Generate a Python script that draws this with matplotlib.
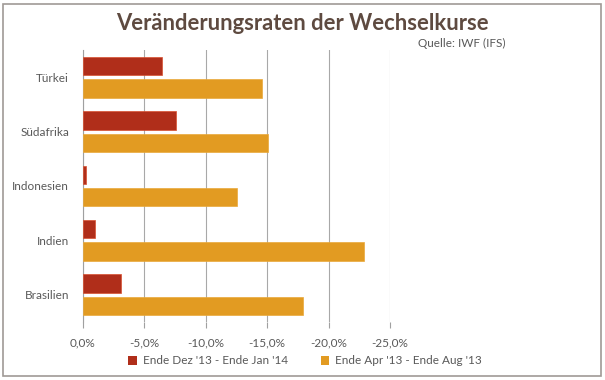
import numpy as np
import matplotlib
matplotlib.use("Agg")
import matplotlib.pyplot as plt
from matplotlib.patches import Rectangle, Patch
from matplotlib.ticker import FixedLocator

# Data
countries = ["Türkei", "Südafrika", "Indonesien", "Indien", "Brasilien"]
dez_jan = [-6.4, -7.6, -0.25, -1.0, -3.1]
apr_aug = [-14.6, -15.1, -12.5, -22.9, -17.9]
series_names = ["Ende Dez '13 - Ende Jan '14", "Ende Apr '13 - Ende Aug '13"]
tick_values = [0, -5, -10, -15, -20, -25]

RED = "#b02e1a"
ORANGE = "#e29b22"
TEXT = "#595959"

plt.rcParams["font.family"] = ["Lato", "DejaVu Sans"]

fig = plt.figure(figsize=(6.05, 3.8), dpi=100)
ax = fig.add_axes([83 / 605, 1 - 322 / 380, (390 - 83) / 605, (322 - 50) / 380])

y = np.arange(len(countries))[::-1].astype(float)
h = 0.34
ax.barh(y + 0.205, dez_jan, height=h, color=RED, edgecolor="#d9502f", linewidth=0.5, zorder=3)
ax.barh(y - 0.205, apr_aug, height=h, color=ORANGE, edgecolor="#eaa93a", linewidth=0.5, zorder=3)

ax.set_xlim(0, -25)
ax.set_ylim(-0.5, len(countries) - 0.5)
ax.xaxis.set_major_locator(FixedLocator(tick_values))
ax.set_xticklabels([f"{v:.1f}%".replace(".", ",") for v in tick_values], color=TEXT, fontsize=8.5)
ax.set_yticks(y)
ax.set_yticklabels(countries, color=TEXT, fontsize=8.5)
ax.tick_params(axis="y", length=0, pad=10)
ax.tick_params(axis="x", length=4, color="#a0a0a0", pad=7)

ax.grid(axis="x", color="#a8a8a8", linewidth=0.8, zorder=0)
for s in ["top", "right"]:
    ax.spines[s].set_visible(False)
ax.spines["left"].set_color("#a0a0a0")
ax.spines["bottom"].set_visible(False)

# Title and source
fig.text(302 / 605, 1 - 24 / 380, "Veränderungsraten der Wechselkurse", ha="center", va="center",
         fontsize=15.8, fontweight="bold", color="#5e4a40")
fig.text(506 / 605, 1 - 43 / 380, "Quelle: IWF (IFS)", ha="right", va="center", fontsize=8.5, color=TEXT)

# Legend
handles = [Patch(facecolor=RED), Patch(facecolor=ORANGE)]
fig.legend(handles, series_names, loc="center", bbox_to_anchor=(305 / 605, 1 - 361 / 380), ncol=2,
           frameon=False, fontsize=8.5, labelcolor=TEXT, handlelength=0.7, handleheight=0.7,
           handletextpad=0.5, columnspacing=2.8)

# Outer border
fig.patches.append(Rectangle((3 / 605, 4 / 380), 598 / 605, 372 / 380, transform=fig.transFigure,
                             fill=False, edgecolor="#a09a96", linewidth=1.2))

fig.savefig("out.png", dpi=100)
